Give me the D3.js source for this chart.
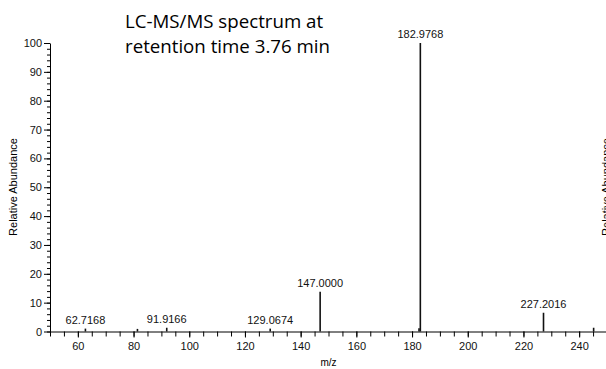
<!DOCTYPE html>
<html lang="en">
<head>
<meta charset="UTF-8">
<script src="https://d3js.org/d3.v7.min.js"></script>
<title>LC-MS/MS spectrum</title>
<style>
  body { margin: 0; background: #fff; }
  svg text { font-family: "Liberation Sans", Arial, sans-serif; }
</style>
</head>
<body>
<svg id="chart" width="606" height="369"></svg>
<script>
// peaks: m/z, relative abundance, label (null = unlabeled)
const mz        = [62.7168, 81.4, 91.9166, 129.0674, 147.0000, 182.5, 182.9768, 227.2016, 245.2];
const abundance = [1.0,     0.9,  1.3,     1.0,      13.8,     1.1,   100,      6.5,      1.3];
const peakLabels = ["62.7168", null, "91.9166", "129.0674", "147.0000", null, "182.9768", "227.2016", null];

const xTicks = [60, 80, 100, 120, 140, 160, 180, 200, 220, 240];
const yTicks = [0, 10, 20, 30, 40, 50, 60, 70, 80, 90, 100];
const titleLines = ["LC-MS/MS spectrum at", "retention time 3.76 min"];

const svg = d3.select("svg#chart");
const peaks = mz.map((d, i) => ({mz: d, ab: abundance[i], label: peakLabels[i]}));

const x = d3.scaleLinear().domain([50, 250]).range([50, 607]);
const y = d3.scaleLinear().domain([0, 100]).range([331.5, 43]);

// y axis: minor ticks every 2, labels every 10
svg.append("g")
   .attr("transform", "translate(50,0)")
   .call(d3.axisLeft(y).tickValues(d3.range(0, 101, 2)).tickSize(3).tickFormat(""))
   .call(g => g.select(".domain").remove());
svg.append("g")
   .attr("transform", "translate(50,0)")
   .call(d3.axisLeft(y).tickValues(yTicks).tickSize(6).tickPadding(2).tickSizeOuter(0))
   .call(g => g.selectAll("text").attr("font-size", 11).attr("fill", "#111"));

// x axis: minor ticks every 5, labels every 20
svg.append("g")
   .attr("transform", "translate(0,331.5)")
   .call(d3.axisBottom(x).tickValues(d3.range(50, 251, 5)).tickSize(5).tickFormat(""))
   .call(g => g.select(".domain").remove());
svg.append("g")
   .attr("transform", "translate(0,331.5)")
   .call(d3.axisBottom(x).tickValues(xTicks).tickSize(6).tickPadding(5).tickSizeOuter(0))
   .call(g => g.selectAll("text").attr("font-size", 11).attr("fill", "#111"));

// sticks
svg.append("g").selectAll("line")
   .data(peaks)
   .join("line")
   .attr("x1", d => x(d.mz)).attr("x2", d => x(d.mz))
   .attr("y1", y(0)).attr("y2", d => y(d.ab))
   .attr("stroke", "#111")
   .attr("stroke-width", 1.6);

svg.append("g").selectAll("text")
   .data(peaks.filter(d => d.label))
   .join("text")
   .attr("x", d => x(d.mz))
   .attr("y", d => y(d.ab) - 5)
   .attr("text-anchor", "middle")
   .attr("font-size", 11)
   .attr("fill", "#111")
   .text(d => d.label);

// axis titles
svg.append("text")
   .attr("x", 328.5).attr("y", 366)
   .attr("text-anchor", "middle")
   .attr("font-size", 10)
   .text("m/z");
svg.append("text")
   .attr("transform", "translate(16.5,187) rotate(-90)")
   .attr("text-anchor", "middle")
   .attr("font-size", 11)
   .text("Relative Abundance");
// second panel's label, cut off at the right edge as in the source figure
svg.append("text")
   .attr("transform", "translate(610,187) rotate(-90)")
   .attr("text-anchor", "middle")
   .attr("font-size", 11)
   .text("Relative Abundance");

// title
svg.append("g").selectAll("text")
   .data(titleLines)
   .join("text")
   .attr("x", 125)
   .attr("y", (d, i) => 27.5 + i * 25)
   .style("font-family", "'Open Sans', sans-serif")
   .attr("font-size", 18.7)
   .attr("fill", "#000")
   .text(d => d);
</script>
</body>
</html>
